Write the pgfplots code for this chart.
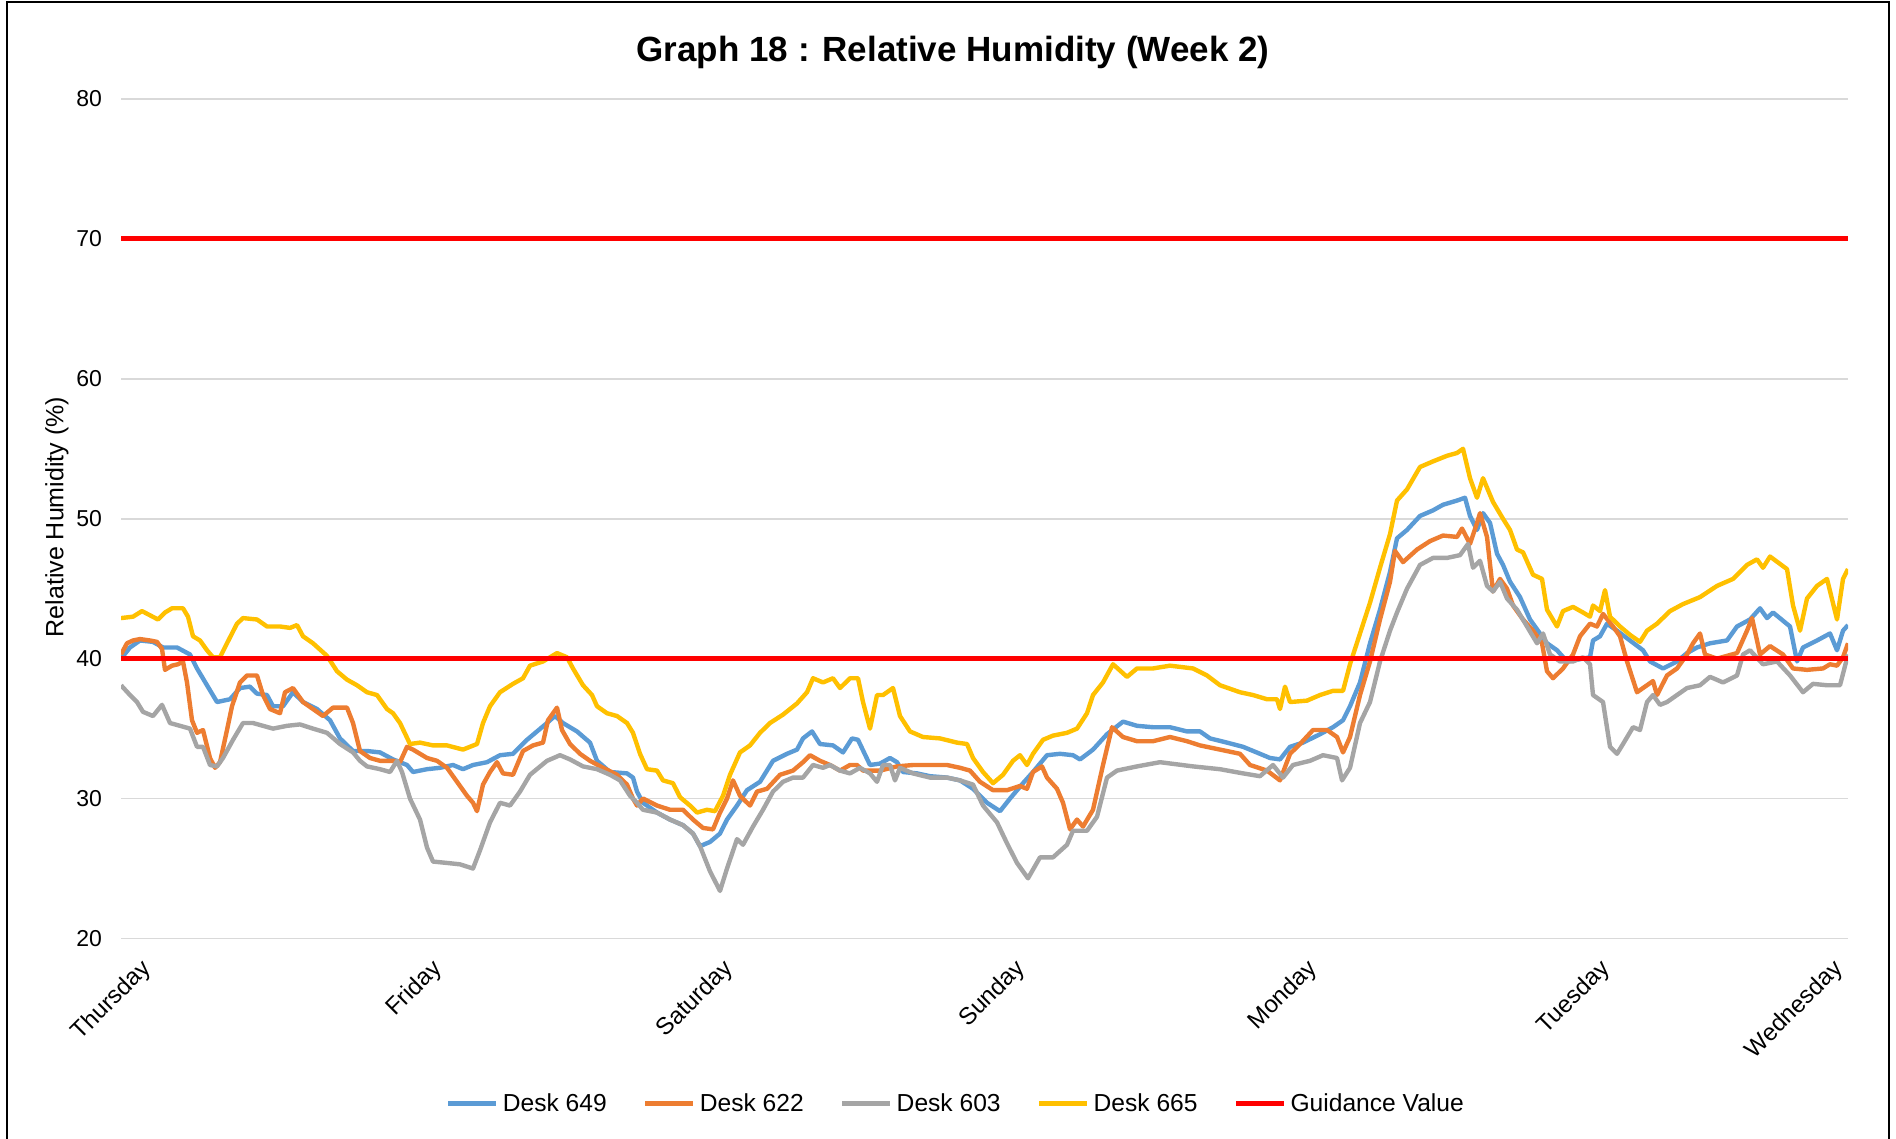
\documentclass[border=0pt]{standalone}
\usepackage{fontspec}
\setmainfont{Liberation Sans}
\usepackage{pgfplots}
\pgfplotsset{compat=1.18}
\definecolor{cblue}{HTML}{5B9BD5}
\definecolor{corange}{HTML}{ED7D31}
\definecolor{cgray}{HTML}{A5A5A5}
\definecolor{cyellow}{HTML}{FFC000}
\definecolor{cred}{HTML}{FF0000}
\definecolor{gridgray}{HTML}{D9D9D9}
\begin{document}
\begin{tikzpicture}
\useasboundingbox (0,0) rectangle (948pt,569.5pt);
\draw[line width=1.2pt, black] (3.5pt,-5pt) -- (3.5pt,568.6pt) -- (944.6pt,568.6pt) -- (944.6pt,-5pt);
\node[anchor=base, font=\bfseries\fontsize{17.5}{20}\selectfont] at (476.5pt,538.5pt) {Graph 18 : Relative Humidity (Week 2)};
\begin{axis}[
  at={(60.5pt,100.25pt)}, anchor=south west,
  scale only axis, width=863.5pt, height=419.75pt,
  xmin=121, xmax=1848, ymin=20, ymax=80,
  axis line style={draw=none},
  major tick length=0pt,
  ymajorgrids, grid style={gridgray, line width=0.8pt},
  ytick={20,30,...,80},
  xtick={121,412,703,995,1287,1580,1813},
  xticklabels={Thursday,Friday,Saturday,Sunday,Monday,Tuesday,Wednesday},
  xticklabel style={rotate=45, anchor=north east, inner sep=0pt, yshift=-13pt, font=\fontsize{12}{14}\selectfont},
  yticklabel style={font=\fontsize{11.5}{13}\selectfont, xshift=-6pt},
  /pgf/number format/assume math mode=true,
  ylabel={Relative Humidity (\%)},
  ylabel style={at={(axis description cs:-0.0371,0.502)}, anchor=center, font=\fontsize{12.5}{14}\selectfont},
  legend style={at={(axis description cs:0.484,-0.197)}, anchor=center, draw=none, fill=none,
    font=\fontsize{12.3}{14}\selectfont,
    /tikz/every even column/.append style={column sep=16pt}},
  legend columns=-1,
  legend image code/.code={\draw[#1, line width=2.5pt] (0pt,0pt) -- (24pt,0pt);},
  every axis plot/.append style={line join=round},
]
% Desk 649
\addplot[cblue, line width=2.2pt] coordinates {
(121,40.0)(130,40.8)(140,41.3)(153,41.2)(163,40.8)(177,40.8)(190,40.3)(197,39.3)(207,38.1)(217,36.9)
(230,37.1)(240,37.9)(250,38.0)(257,37.5)(267,37.4)(273,36.6)(283,36.6)(293,37.6)(303,36.9)(317,36.4)
(330,35.6)(340,34.3)(353,33.4)(367,33.4)(380,33.3)(393,32.8)(407,32.4)(413,31.9)(427,32.1)(440,32.2)
(453,32.4)(463,32.1)(473,32.4)(487,32.6)(500,33.1)(513,33.2)(527,34.2)(537,34.8)(547,35.4)(550,35.6)
(555,35.9)(563,35.4)(577,34.8)(590,34.0)(597,32.7)(610,31.9)(627,31.8)(633,31.5)(637,30.5)(643,29.7)
(657,29.0)(670,28.5)(683,28.1)(693,27.5)(700,26.6)(710,26.9)(720,27.5)(727,28.5)(737,29.5)(747,30.6)
(760,31.2)(773,32.7)(787,33.2)(797,33.5)(803,34.3)(812,34.8)(820,33.9)(833,33.8)(843,33.3)(852,34.3)
(858,34.2)(870,32.4)(880,32.5)(890,32.9)(897,32.6)(903,31.9)(917,31.8)(930,31.6)(947,31.5)(960,31.3)
(973,30.7)(987,29.7)(1000,29.1)(1010,30.0)(1023,31.1)(1033,31.9)(1047,33.1)(1060,33.2)(1073,33.1)(1080,32.8)
(1093,33.5)(1107,34.6)(1123,35.5)(1137,35.2)(1153,35.1)(1170,35.1)(1187,34.8)(1200,34.8)(1210,34.3)(1227,34.0)
(1243,33.7)(1260,33.2)(1270,32.9)(1280,32.8)(1290,33.7)(1303,34.0)(1320,34.6)(1333,35.1)(1343,35.6)(1350,36.6)
(1360,38.3)(1370,41.1)(1380,43.5)(1390,46.2)(1397,48.6)(1407,49.2)(1420,50.2)(1433,50.6)(1443,51.0)(1457,51.3)
(1465,51.5)(1470,50.2)(1477,49.2)(1483,50.4)(1490,49.7)(1497,47.5)(1503,46.7)(1510,45.5)(1520,44.4)(1530,42.8)
(1538,42.0)(1547,41.1)(1557,40.6)(1567,39.8)(1583,40.0)(1590,40.1)(1593,41.3)(1600,41.6)(1607,42.5)(1617,42.0)
(1630,41.3)(1643,40.6)(1650,39.8)(1663,39.3)(1677,39.8)(1687,40.4)(1697,40.8)(1710,41.1)(1727,41.3)(1737,42.3)
(1750,42.8)(1760,43.6)(1767,42.9)(1773,43.3)(1790,42.3)(1797,39.8)(1803,40.8)(1817,41.3)(1830,41.8)(1837,40.6)
(1843,42.0)(1848,42.4)};
\addlegendentry{Desk 649}
% Desk 622
\addplot[corange, line width=2.2pt] coordinates {
(121,40.3)(127,41.1)(133,41.3)(140,41.4)(150,41.3)(157,41.2)(162,40.7)(165,39.2)(172,39.5)(178,39.6)
(183,39.8)(187,38.3)(192,35.6)(197,34.7)(203,34.9)(210,32.9)(215,32.2)(220,32.6)(227,34.9)(232,36.6)
(240,38.3)(247,38.8)(257,38.8)(263,37.4)(270,36.4)(280,36.1)(285,37.6)(293,37.9)(303,36.9)(313,36.4)
(323,35.9)(333,36.5)(347,36.5)(353,35.4)(360,33.4)(370,32.9)(380,32.7)(393,32.7)(400,32.6)(407,33.7)
(413,33.5)(427,32.9)(437,32.7)(447,32.2)(457,31.2)(467,30.2)(473,29.7)(477,29.1)(483,31.0)(490,31.9)
(497,32.6)(503,31.8)(513,31.7)(523,33.4)(533,33.8)(543,34.0)(548,35.6)(553,36.1)(557,36.5)(562,34.9)
(570,33.9)(580,33.2)(590,32.7)(603,32.2)(617,31.7)(627,31.0)(633,30.0)(637,29.5)(643,30.0)(657,29.5)
(670,29.2)(683,29.2)(693,28.5)(703,27.9)(713,27.8)(720,29.0)(727,30.0)(733,31.3)(740,30.2)(750,29.5)
(757,30.5)(767,30.7)(780,31.7)(793,32.0)(803,32.6)(810,33.1)(820,32.7)(830,32.4)(840,32.0)(850,32.4)
(857,32.4)(863,32.0)(880,32.0)(897,32.3)(913,32.4)(930,32.4)(947,32.4)(960,32.2)(970,32.0)(980,31.2)
(993,30.6)(1007,30.6)(1020,30.9)(1027,30.7)(1033,31.9)(1042,32.3)(1047,31.5)(1057,30.7)(1063,29.7)(1070,27.8)
(1077,28.5)(1083,28.0)(1093,29.2)(1103,32.4)(1112,35.1)(1123,34.4)(1137,34.1)(1153,34.1)(1170,34.4)(1187,34.1)
(1200,33.8)(1220,33.5)(1240,33.2)(1250,32.4)(1267,32.0)(1280,31.3)(1290,33.2)(1300,33.9)(1313,34.9)(1327,34.9)
(1337,34.4)(1343,33.3)(1350,34.4)(1360,37.4)(1370,39.8)(1380,42.8)(1390,45.5)(1395,47.7)(1403,46.9)(1417,47.8)
(1430,48.4)(1443,48.8)(1457,48.7)(1462,49.3)(1470,48.2)(1477,49.7)(1480,50.4)(1487,48.7)(1493,44.8)(1500,45.7)
(1507,45.0)(1513,43.8)(1523,42.8)(1533,42.0)(1542,41.1)(1547,39.1)(1553,38.6)(1563,39.3)(1573,40.3)(1580,41.6)
(1590,42.5)(1597,42.3)(1603,43.2)(1613,42.3)(1620,41.6)(1627,39.8)(1637,37.6)(1647,38.1)(1653,38.4)(1657,37.4)
(1667,38.8)(1677,39.3)(1687,40.3)(1693,41.1)(1700,41.8)(1705,40.3)(1717,40.0)(1737,40.4)(1747,42.0)(1752,42.9)
(1757,41.3)(1760,40.3)(1770,40.9)(1783,40.3)(1793,39.3)(1807,39.2)(1823,39.3)(1830,39.6)(1837,39.5)(1843,40.1)
(1848,41.1)};
\addlegendentry{Desk 622}
% Desk 603
\addplot[cgray, line width=2.2pt] coordinates {
(121,38.1)(130,37.4)(137,36.9)(143,36.2)(153,35.9)(162,36.7)(170,35.4)(180,35.2)(190,35.0)(197,33.7)
(203,33.7)(210,32.4)(217,32.3)(223,32.9)(233,34.2)(243,35.4)(253,35.4)(263,35.2)(273,35.0)(287,35.2)
(300,35.3)(313,35.0)(327,34.7)(340,33.9)(353,33.3)(360,32.7)(367,32.3)(380,32.1)(390,31.9)(397,32.7)
(402,31.9)(410,30.0)(420,28.5)(427,26.5)(433,25.5)(447,25.4)(460,25.3)(473,25.0)(480,26.3)(490,28.3)
(500,29.7)(510,29.5)(520,30.5)(530,31.7)(547,32.7)(560,33.1)(570,32.8)(583,32.3)(597,32.1)(610,31.7)
(620,31.3)(630,30.2)(637,29.7)(643,29.2)(657,29.0)(670,28.5)(683,28.1)(693,27.5)(700,26.6)(710,24.8)
(720,23.4)(727,25.0)(737,27.1)(743,26.7)(753,28.0)(763,29.2)(773,30.5)(783,31.2)(793,31.5)(803,31.5)
(813,32.4)(823,32.2)(830,32.4)(840,32.0)(850,31.8)(860,32.2)(870,31.8)(877,31.2)(883,32.4)(890,32.4)
(895,31.3)(900,32.2)(913,31.8)(930,31.5)(947,31.5)(960,31.3)(973,31.0)(983,29.5)(997,28.3)(1007,26.8)
(1017,25.4)(1028,24.3)(1040,25.8)(1053,25.8)(1067,26.7)(1073,27.7)(1087,27.7)(1097,28.7)(1107,31.5)(1117,32.0)
(1137,32.3)(1160,32.6)(1193,32.3)(1220,32.1)(1243,31.8)(1260,31.6)(1273,32.4)(1283,31.5)(1293,32.4)(1310,32.7)
(1323,33.1)(1337,32.9)(1342,31.3)(1350,32.2)(1360,35.4)(1370,36.9)(1380,39.8)(1390,42.0)(1397,43.3)(1407,45.0)
(1420,46.7)(1433,47.2)(1447,47.2)(1460,47.4)(1468,48.2)(1473,46.5)(1480,47.0)(1487,45.2)(1493,44.8)(1500,45.5)
(1507,44.3)(1517,43.5)(1527,42.3)(1537,41.1)(1543,41.8)(1550,40.3)(1560,39.8)(1573,39.8)(1583,40.1)(1590,39.6)
(1593,37.4)(1603,36.9)(1610,33.7)(1617,33.2)(1623,33.9)(1633,35.1)(1640,34.9)(1647,36.9)(1653,37.4)(1660,36.7)
(1667,36.9)(1677,37.4)(1687,37.9)(1700,38.1)(1710,38.7)(1723,38.3)(1737,38.8)(1743,40.3)(1750,40.6)(1763,39.6)
(1777,39.8)(1790,38.8)(1803,37.6)(1813,38.2)(1827,38.1)(1840,38.1)(1848,40.3)};
\addlegendentry{Desk 603}
% Desk 665
\addplot[cyellow, line width=2.2pt] coordinates {
(121,42.9)(133,43.0)(142,43.4)(150,43.1)(158,42.8)(165,43.3)(172,43.6)(183,43.6)(188,43.0)(193,41.6)
(200,41.3)(207,40.6)(213,40.1)(220,40.1)(227,41.1)(237,42.5)(243,42.9)(257,42.8)(267,42.3)(280,42.3)
(290,42.2)(297,42.4)(303,41.6)(313,41.1)(327,40.2)(337,39.1)(347,38.5)(357,38.1)(367,37.6)(377,37.4)
(387,36.4)(393,36.1)(400,35.4)(410,33.9)(420,34.0)(433,33.8)(447,33.8)(463,33.5)(477,33.9)(483,35.4)
(490,36.6)(500,37.6)(513,38.2)(523,38.6)(530,39.5)(543,39.8)(557,40.4)(567,40.1)(573,39.3)(583,38.1)
(592,37.4)(597,36.6)(607,36.1)(617,35.9)(627,35.4)(633,34.7)(640,33.2)(647,32.1)(657,32.0)(663,31.3)
(673,31.1)(680,30.1)(690,29.5)(697,29.0)(707,29.2)(715,29.1)(723,30.2)(730,31.7)(740,33.3)(750,33.8)
(760,34.7)(770,35.4)(783,36.0)(797,36.8)(807,37.6)(813,38.6)(823,38.3)(833,38.6)(840,37.9)(850,38.6)
(858,38.6)(863,36.9)(870,35.0)(877,37.4)(883,37.4)(893,37.9)(900,35.9)(910,34.8)(923,34.4)(940,34.3)
(957,34.0)(967,33.9)(973,32.9)(983,31.9)(993,31.1)(1003,31.7)(1013,32.7)(1020,33.1)(1027,32.4)(1033,33.2)
(1043,34.2)(1053,34.5)(1067,34.7)(1077,35.0)(1087,36.1)(1093,37.4)(1103,38.3)(1113,39.6)(1127,38.7)(1137,39.3)
(1153,39.3)(1170,39.5)(1193,39.3)(1207,38.8)(1220,38.1)(1240,37.6)(1253,37.4)(1267,37.1)(1277,37.1)(1280,36.4)
(1285,38.0)(1290,36.9)(1307,37.0)(1320,37.4)(1333,37.7)(1343,37.7)(1350,39.6)(1360,41.8)(1370,44.0)(1380,46.5)
(1390,48.9)(1397,51.3)(1407,52.1)(1420,53.7)(1433,54.1)(1447,54.5)(1457,54.7)(1463,55.0)(1470,52.9)(1477,51.5)
(1483,52.9)(1493,51.2)(1503,50.0)(1510,49.2)(1517,47.8)(1523,47.6)(1533,46.0)(1542,45.7)(1547,43.5)(1557,42.3)
(1563,43.4)(1573,43.7)(1583,43.3)(1590,43.0)(1593,43.8)(1600,43.4)(1605,44.9)(1610,43.0)(1620,42.3)(1630,41.7)
(1640,41.2)(1647,42.0)(1657,42.5)(1670,43.4)(1683,43.9)(1700,44.4)(1717,45.2)(1733,45.7)(1747,46.7)(1757,47.1)
(1763,46.5)(1770,47.3)(1787,46.4)(1793,43.8)(1800,42.0)(1807,44.3)(1817,45.2)(1827,45.7)(1837,42.8)(1843,45.7)
(1848,46.4)};
\addlegendentry{Desk 665}
% Guidance values
\addplot[cred, line width=2.5pt] coordinates {(121,40)(1848,40)};
\addlegendentry{Guidance Value}
\addplot[cred, line width=2.5pt, forget plot] coordinates {(121,70)(1848,70)};
\end{axis}
\end{tikzpicture}
\end{document}
